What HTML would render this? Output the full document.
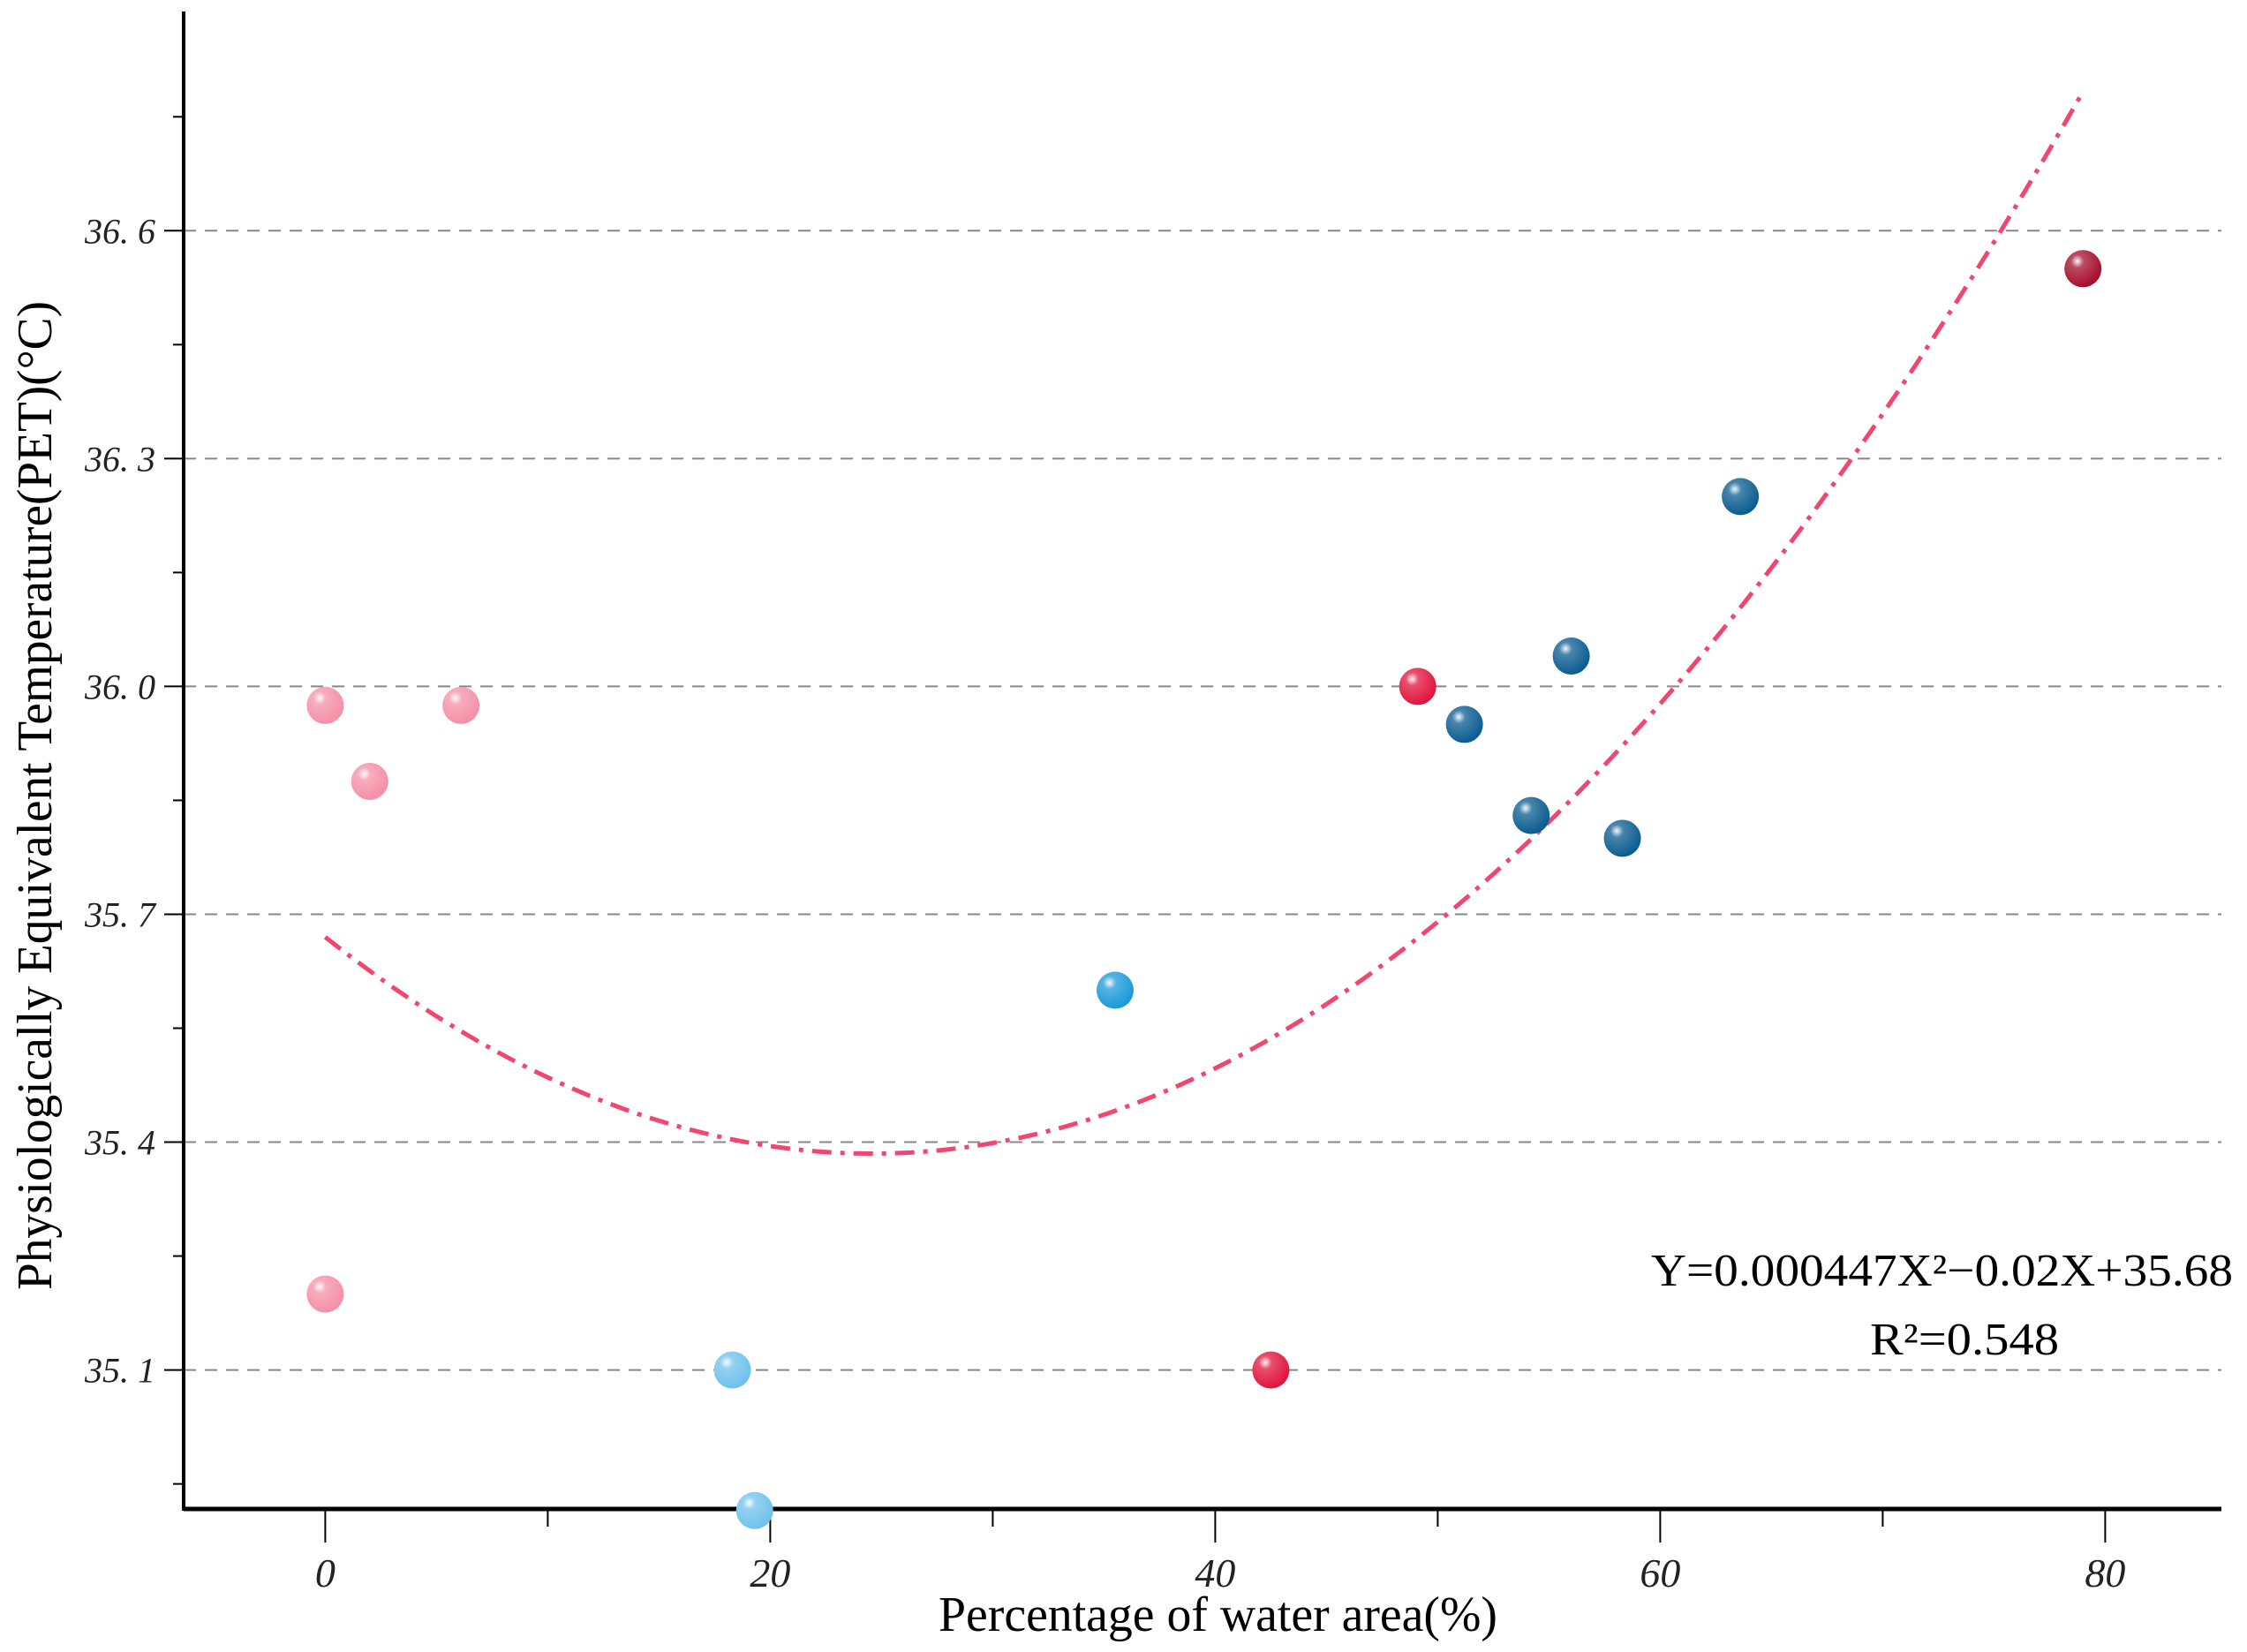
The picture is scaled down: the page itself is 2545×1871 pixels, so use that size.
<!DOCTYPE html>
<html><head><meta charset="utf-8"><style>
html,body{margin:0;padding:0;background:#fff}
svg{display:block}
text{font-family:"Liberation Serif",serif}
</style></head><body>
<svg id="chart" width="2545" height="1871" viewBox="0 0 2545 1871" xmlns="http://www.w3.org/2000/svg">
<defs>
<radialGradient id="shine" cx="0.35" cy="0.3" r="0.7">
<stop offset="0" stop-color="#fff" stop-opacity="0.95"/>
<stop offset="0.25" stop-color="#fff" stop-opacity="0.25"/>
<stop offset="1" stop-color="#fff" stop-opacity="0"/>
</radialGradient>
</defs>
<g id="grid"></g>
<g id="axes"></g>
<g id="curve"></g>
<g id="points"></g>
<text x="1063" y="1847" font-size="56" textLength="633" lengthAdjust="spacingAndGlyphs">Percentage of water area(%)</text>
<text transform="translate(58,1461) rotate(-90)" font-size="56" textLength="1120" lengthAdjust="spacingAndGlyphs">Physiologically Equivalent Temperature(PET)(°C)</text>
<text x="1870" y="1456" font-size="52" textLength="659" lengthAdjust="spacingAndGlyphs">Y=0.000447X²−0.02X+35.68</text>
<text x="2118" y="1534" font-size="52" textLength="214" lengthAdjust="spacingAndGlyphs">R²=0.548</text>
</svg>
<script>
const xTicks = [0, 20, 40, 60, 80];
const xMinor = [10, 30, 50, 70];
const yTicks = [35.1, 35.4, 35.7, 36.0, 36.3, 36.6];
const yTickLabels = ["35. 1", "35. 4", "35. 7", "36. 0", "36. 3", "36. 6"];
const yMinor = [34.95, 35.25, 35.55, 35.85, 36.15, 36.45, 36.75];
const pointX = [0, 2, 6.1, 0, 18.3, 19.3, 35.5, 42.5, 49.1, 51.2, 54.2, 56, 58.3, 63.6, 79];
const pointY = [35.975, 35.875, 35.975, 35.2, 35.1, 34.915, 35.6, 35.1, 36.0, 35.95, 35.83, 36.04, 35.8, 36.25, 36.55];
const pointColor = ["#f590a6","#f590a6","#f590a6","#f590a6","#6fc2ec","#6fc2ec","#1b9ad8","#e2143e","#e2143e","#0b5d90","#0b5d90","#0b5d90","#0b5d90","#0b5d90","#a50f2d"];
const fitCoef = [35.67, -0.0232, 0.000472];
const fitRange = [0, 79];

const NS = "http://www.w3.org/2000/svg";
const X0 = 208, XR = 2516, YB = 1709, YT = 13;
function sx(v){ return 368.4 + v * 25.2; }
function sy(v){ return 261.3 + (36.6 - v) * 860.2; }
function mk(tag, attrs, parent){
  const e = document.createElementNS(NS, tag);
  for (const k in attrs) e.setAttribute(k, attrs[k]);
  parent.appendChild(e); return e;
}
const grid = document.getElementById('grid');
const axes = document.getElementById('axes');
const curve = document.getElementById('curve');
const pts = document.getElementById('points');

yTicks.forEach((v, i) => {
  const g = mk('line', {x1: X0, x2: XR, y1: sy(v), y2: sy(v), stroke: '#888', 'stroke-width': 2, 'stroke-dasharray': '14 10'}, grid);
  
  
  const t = mk('line', {x1: X0 - 22, x2: X0, y1: sy(v), y2: sy(v), stroke: '#000', 'stroke-width': 2}, axes);
  
  
  const l = mk('text', {x: X0 - 32, y: sy(v) + 14, 'text-anchor': 'end', 'font-size': 40, 'font-style': 'italic', fill: '#222'}, axes);
  l.textContent = yTickLabels[i];
  
  
});
yMinor.forEach(v => {
  const t = mk('line', {x1: X0 - 12, x2: X0, y1: sy(v), y2: sy(v), stroke: '#000', 'stroke-width': 2}, axes);
  
  
});
xTicks.forEach(v => {
  const t = mk('line', {x1: sx(v), x2: sx(v), y1: YB, y2: YB + 38, stroke: '#000', 'stroke-width': 2}, axes);
  
  
  const l = mk('text', {x: sx(v), y: YB + 88, 'text-anchor': 'middle', 'font-size': 46, 'font-style': 'italic', fill: '#222'}, axes);
  l.textContent = String(v);
  
  
});
xMinor.forEach(v => {
  const t = mk('line', {x1: sx(v), x2: sx(v), y1: YB, y2: YB + 20, stroke: '#000', 'stroke-width': 2}, axes);
  
  
});
const ya = mk('line', {x1: X0, x2: X0, y1: YT, y2: YB + 2, stroke: '#000', 'stroke-width': 4}, axes);


const xa = mk('line', {x1: X0, x2: XR, y1: YB, y2: YB, stroke: '#000', 'stroke-width': 5}, axes);



let d = '';
for (let i = 0; i <= 200; i++) {
  const x = fitRange[0] + (fitRange[1] - fitRange[0]) * i / 200;
  const y = fitCoef[0] + fitCoef[1] * x + fitCoef[2] * x * x;
  d += (i ? 'L' : 'M') + sx(x).toFixed(1) + ' ' + sy(y).toFixed(1);
}
const cp = mk('path', {d: d, fill: 'none', stroke: '#f0466f', 'stroke-width': 5, 'stroke-dasharray': '22 10 5 10'}, curve);



pointX.forEach((v, i) => {
  const c = mk('circle', {cx: sx(v), cy: sy(pointY[i]), r: 21, fill: pointColor[i]}, pts);
  
  
  const h = mk('circle', {cx: sx(v), cy: sy(pointY[i]), r: 21, fill: 'url(#shine)'}, pts);
  
  
});
</script>
</body></html>
